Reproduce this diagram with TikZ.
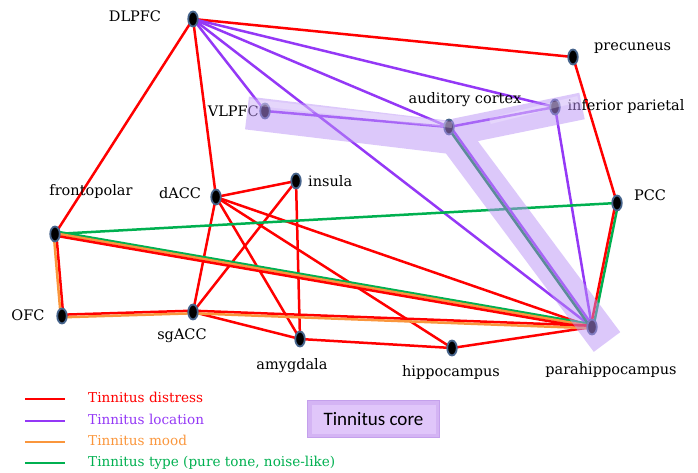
\documentclass[tikz,border=0pt]{standalone}
\usepackage{fontspec}
\setmainfont{DejaVu Serif}
\newfontfamily\boxfont{Carlito}
\usetikzlibrary{shapes.geometric,calc}

\definecolor{cred}{RGB}{255,0,0}
\definecolor{cpurple}{RGB}{148,56,246}
\definecolor{corange}{RGB}{250,150,60}
\definecolor{cgreen}{RGB}{0,176,80}
\definecolor{nodeedge}{RGB}{70,100,140}
\definecolor{tubecol}{RGB}{186,146,246}
\definecolor{boxout}{RGB}{212,180,244}
\definecolor{boxin}{RGB}{224,198,250}
\definecolor{boxrim}{RGB}{196,160,236}

\tikzset{
  region/.style={ellipse, fill=black, draw=nodeedge, line width=1.8pt,
                 minimum width=9.5pt, minimum height=15pt, inner sep=0pt},
  lbl/.style={font=\fontsize{14.5}{17}\selectfont, inner sep=0pt,
              text height=1.6ex, text depth=0.4ex},
  link/.style={line width=2.5pt},
  legtext/.style={font=\fontsize{13.6}{16}\selectfont, inner sep=0pt, anchor=west,
                  text height=1.6ex, text depth=0.4ex},
}

% parallel strand between two named points, shifted sideways by #3
\newcommand{\strand}[4]{%
  \draw[link, #4] ($(#1)!#3!90:(#2)$) -- ($(#2)!#3!-90:(#1)$);}

\begin{document}
\begin{tikzpicture}[x=1pt,y=-1pt]
\useasboundingbox (0,0) rectangle (698,473);

% region positions
\coordinate (DLPFC) at (193,19);
\coordinate (VLPFC) at (265,111);
\coordinate (dACC) at (216,197);
\coordinate (insula) at (296,181);
\coordinate (frontopolar) at (55,234);
\coordinate (OFC) at (62,316);
\coordinate (sgACC) at (193,312);
\coordinate (amygdala) at (300,339);
\coordinate (hippocampus) at (452,348);
\coordinate (parahippo) at (592,327);
\coordinate (auditory) at (449,127);
\coordinate (infpar) at (555,107);
\coordinate (precuneus) at (573,57);
\coordinate (PCC) at (617,203);

% tinnitus distress
\draw[link, cred] (DLPFC) -- (precuneus);
\draw[link, cred] (precuneus) -- (PCC);
\draw[link, cred] (DLPFC) -- (frontopolar);
\draw[link, cred] (DLPFC) -- (dACC);
\draw[link, cred] (dACC) -- (insula);
\draw[link, cred] (dACC) -- (sgACC);
\draw[link, cred] (dACC) -- (amygdala);
\draw[link, cred] (dACC) -- (hippocampus);
\draw[link, cred] (dACC) -- (parahippo);
\draw[link, cred] (insula) -- (sgACC);
\draw[link, cred] (insula) -- (amygdala);
\draw[link, cred] (sgACC) -- (amygdala);
\draw[link, cred] (amygdala) -- (hippocampus);
\draw[link, cred] (hippocampus) -- (parahippo);

% tinnitus location
\draw[link, cpurple] (DLPFC) -- (VLPFC);
\draw[link, cpurple] (DLPFC) -- (auditory);
\draw[link, cpurple] (DLPFC) -- (infpar);
\draw[link, cpurple] (DLPFC) -- (parahippo);
\draw[link, cpurple] (VLPFC) -- (auditory);
\draw[link, cpurple] (auditory) -- (infpar);
\draw[link, cpurple] (infpar) -- (parahippo);

% tinnitus type
\draw[link, cgreen] (frontopolar) -- (PCC);

% shared connections drawn as side-by-side strands
\strand{frontopolar}{parahippo}{2.6pt}{cgreen}
\strand{frontopolar}{parahippo}{0.7pt}{corange}
\strand{frontopolar}{parahippo}{-1.6pt}{cred}
\strand{frontopolar}{OFC}{1.3pt}{cred}
\strand{frontopolar}{OFC}{-1.3pt}{corange}
\strand{OFC}{sgACC}{1.3pt}{cred}
\strand{OFC}{sgACC}{-1.3pt}{corange}
\strand{sgACC}{parahippo}{1.3pt}{cred}
\strand{sgACC}{parahippo}{-1.3pt}{corange}
\strand{PCC}{parahippo}{1.3pt}{cgreen}
\strand{PCC}{parahippo}{-1.3pt}{cred}
\strand{auditory}{parahippo}{1.3pt}{cpurple}
\strand{auditory}{parahippo}{-1.3pt}{cgreen!75!black}

% regions
\foreach \r in {DLPFC,VLPFC,dACC,insula,frontopolar,OFC,sgACC,amygdala,
                hippocampus,parahippo,auditory,infpar,precuneus,PCC}
  \node[region] (n-\r) at (\r) {};

% labels
\node[lbl] (t-DLPFC) at (135,18) {DLPFC};
\node[lbl, anchor=east] (t-VLPFC) at (259,113) {VLPFC};
\node[lbl] (t-frontopolar) at (91,192) {frontopolar};
\node[lbl] (t-dACC) at (180,195) {dACC};
\node[lbl, anchor=west] (t-insula) at (308,183) {insula};
\node[lbl, anchor=west] (t-precuneus) at (594,47) {precuneus};
\node[lbl] (t-auditory) at (465,100) {auditory cortex};
\node[lbl] (t-infpar) at (626,107) {inferior parietal};
\node[lbl] (t-PCC) at (650,197) {PCC};
\node[lbl] (t-OFC) at (28,317) {OFC};
\node[lbl] (t-sgACC) at (182,336) {sgACC};
\node[lbl] (t-amygdala) at (292,366) {amygdala};
\node[lbl] (t-hippocampus) at (451,373) {hippocampus};
\node[lbl] (t-parahippo) at (611,371) {parahippocampus};

% tinnitus core tube
\begin{scope}[transparency group, opacity=0.5]
  \draw[tubecol, line width=33pt, line join=bevel]
    (247,113) -- (455,138) -- (607,342);
  \draw[tubecol, line width=27pt] (455,132) -- (582,106);
\end{scope}
\begin{scope}[transparency group, opacity=0.25]
  \draw[white, line width=6pt, line join=bevel]
    (250,102) -- (452,125);
  \draw[white, line width=6pt] (490,121) -- (578,99);
\end{scope}

% legend
\foreach \c/\t/\yy in {cred/Tinnitus distress/399,
                        cpurple/Tinnitus location/421,
                        corange/Tinnitus mood/442,
                        cgreen/{Tinnitus type (pure tone, noise-like)}/463}{
  \draw[link, \c] (25,\yy) -- (65,\yy);
  \node[legtext, text=\c] at (88,\yy) {\t};
}

% tinnitus core key box with bevelled rim
\fill[boxrim] (307,400) rectangle (440,438);
\fill[boxout] (308,401) rectangle (439,437);
\fill[boxin] (311.5,404.5) rectangle (435.5,433.5);
\node[font=\boxfont\fontsize{19}{22}\selectfont, inner sep=0pt] (core) at (373.5,419) {Tinnitus core};
\end{tikzpicture}
\end{document}
